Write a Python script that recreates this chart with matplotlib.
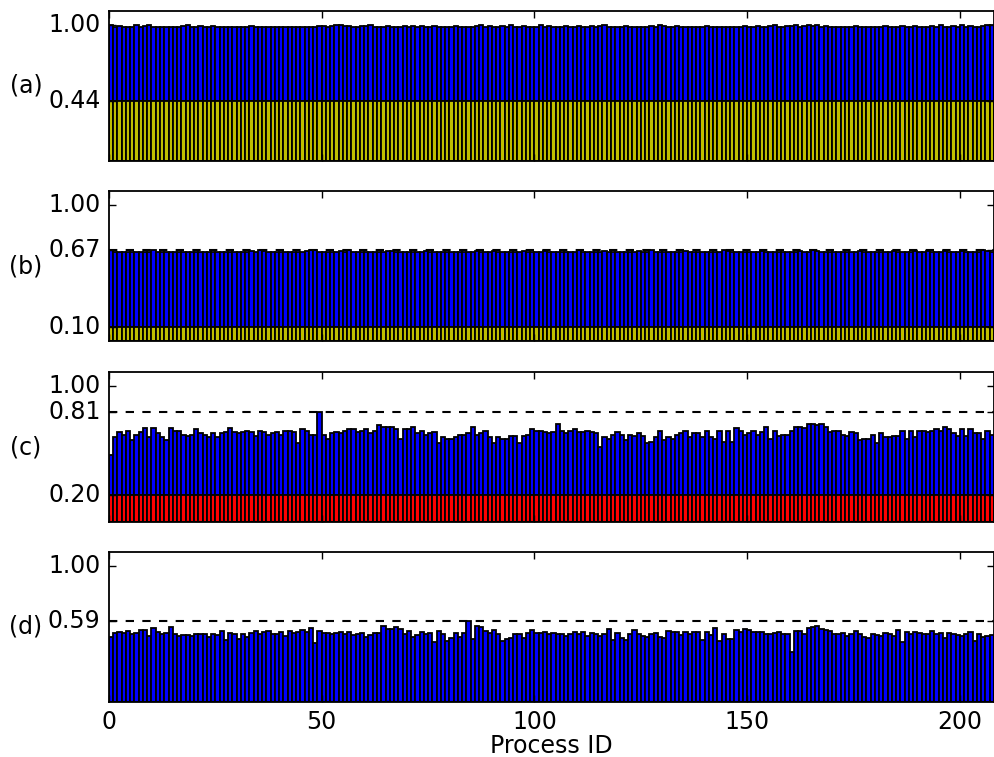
import numpy as np
import matplotlib
matplotlib.use("Agg")
import matplotlib.pyplot as plt

plt.style.use("classic")
plt.rcParams["font.family"] = ["DejaVu Sans"]

# per-process load, normalised to the largest one
load_a = [0.995, 0.985, 0.99, 0.985, 0.985, 0.985, 0.995, 0.985, 0.99, 0.995,
          0.985, 0.985, 0.985, 0.985, 0.985, 0.985, 0.985, 0.99, 0.995, 0.985,
          0.985, 0.99, 0.985, 0.985, 0.99, 0.985, 0.985, 0.985, 0.985, 0.985,
          0.985, 0.985, 0.985, 0.99, 0.985, 0.985, 0.985, 0.985, 0.985, 0.985,
          0.985, 0.985, 0.985, 0.985, 0.985, 0.985, 0.985, 0.985, 0.985, 0.99,
          0.99, 0.985, 0.99, 0.995, 0.995, 0.99, 0.99, 0.985, 0.985, 0.99,
          0.99, 0.995, 0.985, 0.985, 0.985, 0.99, 0.985, 0.985, 0.985, 0.99,
          0.985, 0.99, 0.985, 0.99, 0.985, 0.985, 0.99, 0.985, 0.985, 0.985,
          0.985, 0.99, 0.985, 0.985, 0.985, 0.985, 0.99, 0.995, 0.985, 0.99,
          0.985, 0.985, 0.99, 0.985, 0.995, 0.985, 0.985, 0.99, 0.985, 0.985,
          0.985, 0.995, 0.985, 0.99, 0.985, 0.985, 0.985, 0.99, 0.985, 0.985,
          0.99, 0.985, 0.985, 0.99, 0.985, 0.99, 0.995, 0.985, 0.985, 0.985,
          0.985, 0.99, 0.985, 0.985, 0.985, 0.985, 0.985, 0.99, 0.985, 1.00,
          0.99, 0.985, 0.985, 0.99, 0.985, 0.985, 0.985, 0.985, 0.985, 0.985,
          0.99, 0.985, 0.985, 0.985, 0.985, 0.985, 0.985, 0.985, 0.985, 0.99,
          0.985, 0.985, 0.99, 0.985, 0.985, 0.99, 0.995, 0.985, 0.985, 0.99,
          0.99, 0.995, 0.985, 0.99, 0.995, 0.99, 1.00, 0.985, 0.99, 0.985,
          0.985, 0.985, 0.985, 0.985, 0.985, 0.99, 0.985, 0.985, 0.985, 0.985,
          0.985, 0.985, 0.99, 0.985, 0.985, 0.985, 0.99, 0.985, 0.985, 0.99,
          0.985, 0.985, 0.985, 0.99, 0.985, 0.995, 0.985, 0.985, 0.99, 0.985,
          0.995, 0.985, 0.99, 0.985, 0.985, 0.99, 0.995, 0.995]
load_b = [0.67, 0.655, 0.655, 0.65, 0.655, 0.65, 0.655, 0.655, 0.65, 0.65,
          0.67, 0.655, 0.65, 0.65, 0.655, 0.655, 0.65, 0.655, 0.65, 0.655,
          0.65, 0.655, 0.655, 0.65, 0.655, 0.655, 0.655, 0.65, 0.655, 0.655,
          0.655, 0.65, 0.655, 0.66, 0.655, 0.67, 0.66, 0.655, 0.655, 0.65,
          0.655, 0.65, 0.655, 0.655, 0.65, 0.655, 0.66, 0.67, 0.67, 0.655,
          0.655, 0.655, 0.65, 0.65, 0.66, 0.655, 0.67, 0.655, 0.655, 0.655,
          0.655, 0.65, 0.655, 0.655, 0.65, 0.66, 0.66, 0.655, 0.655, 0.655,
          0.65, 0.655, 0.655, 0.655, 0.66, 0.655, 0.655, 0.655, 0.655, 0.655,
          0.655, 0.655, 0.655, 0.65, 0.655, 0.655, 0.66, 0.655, 0.655, 0.655,
          0.66, 0.655, 0.655, 0.65, 0.655, 0.655, 0.655, 0.66, 0.655, 0.65,
          0.655, 0.655, 0.66, 0.655, 0.655, 0.655, 0.655, 0.65, 0.655, 0.655,
          0.67, 0.655, 0.655, 0.655, 0.65, 0.655, 0.66, 0.655, 0.655, 0.655,
          0.655, 0.65, 0.655, 0.655, 0.66, 0.655, 0.655, 0.67, 0.655, 0.655,
          0.655, 0.65, 0.655, 0.655, 0.655, 0.66, 0.655, 0.655, 0.655, 0.655,
          0.65, 0.655, 0.655, 0.655, 0.67, 0.66, 0.655, 0.655, 0.655, 0.655,
          0.655, 0.655, 0.655, 0.66, 0.655, 0.655, 0.655, 0.65, 0.655, 0.655,
          0.655, 0.655, 0.66, 0.655, 0.655, 0.67, 0.66, 0.655, 0.655, 0.655,
          0.655, 0.65, 0.655, 0.655, 0.655, 0.655, 0.66, 0.655, 0.65, 0.65,
          0.65, 0.65, 0.655, 0.655, 0.66, 0.655, 0.655, 0.655, 0.655, 0.66,
          0.655, 0.655, 0.66, 0.655, 0.655, 0.655, 0.66, 0.655, 0.655, 0.655,
          0.66, 0.655, 0.655, 0.655, 0.655, 0.67, 0.66, 0.655]
load_c = [0.49, 0.62, 0.66, 0.64, 0.67, 0.60, 0.64, 0.66, 0.69, 0.62,
          0.69, 0.65, 0.62, 0.60, 0.69, 0.67, 0.67, 0.64, 0.63, 0.64,
          0.68, 0.65, 0.64, 0.62, 0.65, 0.62, 0.65, 0.66, 0.69, 0.66,
          0.65, 0.66, 0.67, 0.66, 0.63, 0.67, 0.66, 0.64, 0.65, 0.66,
          0.64, 0.67, 0.67, 0.66, 0.58, 0.68, 0.67, 0.64, 0.64, 0.81,
          0.64, 0.61, 0.65, 0.66, 0.65, 0.67, 0.68, 0.68, 0.66, 0.67,
          0.68, 0.65, 0.67, 0.71, 0.70, 0.70, 0.70, 0.68, 0.61, 0.68,
          0.68, 0.70, 0.65, 0.67, 0.64, 0.65, 0.66, 0.58, 0.62, 0.61,
          0.61, 0.62, 0.64, 0.64, 0.65, 0.70, 0.64, 0.65, 0.67, 0.62,
          0.58, 0.62, 0.61, 0.61, 0.63, 0.63, 0.58, 0.63, 0.64, 0.68,
          0.67, 0.67, 0.66, 0.65, 0.66, 0.72, 0.67, 0.65, 0.67, 0.68,
          0.66, 0.66, 0.67, 0.66, 0.65, 0.55, 0.62, 0.61, 0.64, 0.66,
          0.64, 0.60, 0.64, 0.63, 0.65, 0.63, 0.58, 0.59, 0.62, 0.67,
          0.60, 0.62, 0.61, 0.64, 0.65, 0.67, 0.62, 0.65, 0.65, 0.62,
          0.67, 0.62, 0.61, 0.67, 0.59, 0.67, 0.59, 0.69, 0.67, 0.64,
          0.65, 0.67, 0.64, 0.66, 0.70, 0.61, 0.67, 0.63, 0.64, 0.64,
          0.67, 0.70, 0.70, 0.69, 0.72, 0.72, 0.71, 0.72, 0.70, 0.66,
          0.67, 0.67, 0.64, 0.63, 0.66, 0.65, 0.60, 0.61, 0.61, 0.64,
          0.58, 0.65, 0.62, 0.62, 0.63, 0.63, 0.67, 0.61, 0.67, 0.62,
          0.67, 0.67, 0.66, 0.67, 0.68, 0.67, 0.70, 0.68, 0.65, 0.63,
          0.68, 0.63, 0.68, 0.65, 0.65, 0.61, 0.67, 0.64]
load_d = [0.475, 0.507, 0.51, 0.507, 0.52, 0.50, 0.505, 0.53, 0.53, 0.48,
          0.54, 0.51, 0.50, 0.505, 0.55, 0.495, 0.48, 0.49, 0.49, 0.48,
          0.495, 0.495, 0.50, 0.475, 0.50, 0.49, 0.52, 0.455, 0.507, 0.495,
          0.46, 0.495, 0.475, 0.505, 0.52, 0.50, 0.51, 0.52, 0.50, 0.495,
          0.51, 0.48, 0.52, 0.505, 0.51, 0.53, 0.51, 0.545, 0.43, 0.52,
          0.505, 0.507, 0.495, 0.505, 0.51, 0.50, 0.51, 0.49, 0.50, 0.505,
          0.475, 0.49, 0.505, 0.505, 0.56, 0.535, 0.535, 0.55, 0.535, 0.495,
          0.52, 0.475, 0.49, 0.51, 0.50, 0.507, 0.44, 0.52, 0.50, 0.45,
          0.47, 0.505, 0.475, 0.505, 0.59, 0.46, 0.555, 0.55, 0.52, 0.507,
          0.53, 0.495, 0.45, 0.46, 0.47, 0.50, 0.50, 0.47, 0.505, 0.53,
          0.505, 0.505, 0.51, 0.50, 0.505, 0.50, 0.50, 0.48, 0.50, 0.51,
          0.495, 0.51, 0.48, 0.505, 0.495, 0.48, 0.495, 0.535, 0.455, 0.505,
          0.47, 0.455, 0.495, 0.53, 0.50, 0.48, 0.475, 0.495, 0.505, 0.475,
          0.47, 0.52, 0.51, 0.51, 0.49, 0.51, 0.495, 0.51, 0.51, 0.455,
          0.51, 0.49, 0.545, 0.45, 0.495, 0.46, 0.46, 0.53, 0.51, 0.535,
          0.53, 0.51, 0.51, 0.51, 0.50, 0.50, 0.507, 0.51, 0.50, 0.495,
          0.365, 0.52, 0.52, 0.50, 0.545, 0.55, 0.555, 0.535, 0.53, 0.52,
          0.495, 0.495, 0.505, 0.48, 0.50, 0.52, 0.50, 0.475, 0.47, 0.50,
          0.49, 0.48, 0.507, 0.50, 0.48, 0.53, 0.44, 0.51, 0.50, 0.51,
          0.505, 0.50, 0.50, 0.52, 0.495, 0.505, 0.47, 0.505, 0.50, 0.49,
          0.48, 0.495, 0.51, 0.445, 0.495, 0.475, 0.48, 0.49]

# constant share at the bottom of each bar (None = no such part)
base = [0.44, 0.10, 0.20, None]
base_colors = ["y", "y", "r", None]
# dashed reference level per panel (None = not drawn)
peak = [None, 0.67, 0.81, 0.59]
labels = ["(a)", "(b)", "(c)", "(d)"]
loads = [load_a, load_b, load_c, load_d]

fig = plt.figure(figsize=(9.95, 7.57), dpi=100, facecolor="white")
bottoms = [0.7873, 0.5495, 0.3104, 0.0727]
fs = 17

for k in range(4):
    ax = fig.add_axes([0.1095, bottoms[k], 0.8894, 0.1982])
    vals = np.array(loads[k])
    x = np.arange(len(vals))
    ticks = []
    if base[k] is not None:
        b = np.full(len(vals), base[k])
        ax.bar(x, vals - b, width=1.0, bottom=b, align="edge",
               color="b", edgecolor="k", linewidth=1.3)
        ax.bar(x, b, width=1.0, align="edge",
               color=base_colors[k], edgecolor="k", linewidth=1.3)
        ticks.append(base[k])
    else:
        ax.bar(x, vals, width=1.0, align="edge",
               color="b", edgecolor="k", linewidth=1.3)
    if peak[k] is not None:
        ax.axhline(peak[k], color="k", lw=1.5, ls="--", dashes=(6, 6))
        ticks.append(peak[k])
    ticks.append(1.00)
    ax.set_xlim(0, len(vals))
    ax.set_ylim(0, 1.1)
    ax.set_yticks(ticks)
    ax.set_yticklabels(["%.2f" % t for t in ticks], fontsize=fs)
    ax.set_xticks([0, 50, 100, 150, 200])
    ax.tick_params(direction="in", length=5, width=1, pad=6)
    for sp in ax.spines.values():
        sp.set_linewidth(1.3)
    if k < 3:
        ax.set_xticklabels([])
    else:
        ax.set_xticklabels(["0", "50", "100", "150", "200"], fontsize=fs)
        ax.set_xlabel("Process ID", fontsize=fs, labelpad=0)
    fig.text(0.026, bottoms[k] + 0.1982 / 2, labels[k],
             fontsize=fs, ha="center", va="center")

fig.savefig("out.png", dpi=100, facecolor="white")
